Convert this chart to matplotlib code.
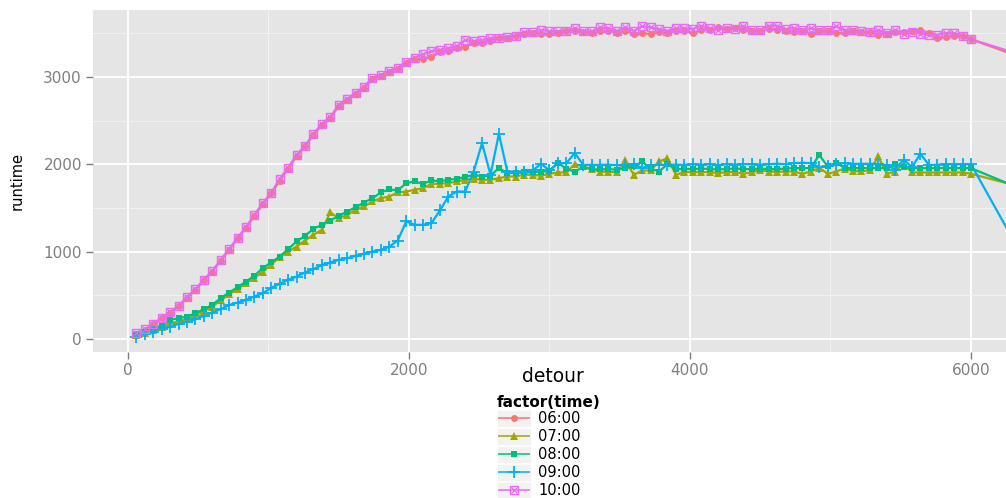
import matplotlib.pyplot as plt
from matplotlib.lines import Line2D
from matplotlib.patches import Rectangle

###############################################################################
# Dados
###############################################################################
detour = list(range(60, 6001, 60)) + [6500]

rt_0600 = [60, 105, 165, 235, 300, 375, 470, 565, 670, 770,
           895, 1020, 1150, 1270, 1410, 1540, 1665, 1810, 1950, 2090,
           2205, 2335, 2450, 2530, 2665, 2740, 2805, 2870, 2975, 3010,
           3050, 3090, 3160, 3200,
           3200, 3230, 3280, 3300, 3330, 3340, 3390, 3390, 3410, 3440,
           3450, 3470, 3490, 3500, 3490, 3490, 3505, 3520, 3520, 3515,
           3500, 3520, 3530, 3500, 3525, 3495, 3500, 3490, 3510, 3500,
           3530, 3530,
           3500, 3540, 3540, 3565, 3550, 3560, 3535, 3520, 3520, 3545,
           3540, 3530, 3510, 3520, 3494, 3520, 3525, 3500, 3500, 3520,
           3515, 3509, 3482, 3494, 3510, 3509, 3520, 3540, 3500, 3444,
           3455, 3471, 3471, 3430,
           3140]

rt_0700 = [40, 70, 100, 140, 180, 200, 230, 270, 320, 370,
           440, 510, 570, 640, 700, 771, 850, 940, 1000, 1057,
           1126, 1192, 1249, 1447, 1382, 1420, 1478, 1516, 1573, 1611,
           1630, 1676, 1687, 1707, 1726, 1775, 1775, 1783, 1802, 1821,
           1833, 1821, 1821, 1840, 1859, 1859, 1879, 1879, 1868, 1890,
           1905, 1905, 2004, 1974, 1944, 1916, 1909, 1909, 2043, 1879,
           1928, 1928, 2031, 2069, 1879, 1909, 1909, 1909, 1909, 1898,
           1909, 1909, 1890, 1909, 1930, 1916, 1912, 1916, 1916, 1890,
           1916, 1960, 1890, 1916, 1950, 1920, 1920, 1930, 2088, 1890,
           1916, 2004, 1905, 1905, 1905, 1905, 1905, 1905, 1905, 1890,
           1680]

rt_0800 = [46, 84, 111, 160, 218, 237, 256, 294, 340, 389,
           466, 531, 592, 657, 722, 813, 876, 943, 1028, 1115,
           1180, 1260, 1306, 1355, 1409, 1458, 1508, 1561, 1611, 1676,
           1714, 1699, 1783, 1802, 1775, 1814, 1805, 1821, 1833, 1852,
           1879, 1859, 1868, 1955, 1898, 1900, 1905, 1910, 1916, 1920,
           2019, 1944, 1916, 1967, 1940, 1940, 1944, 1936, 1955, 1974,
           2031, 1950, 1916, 2000, 1944, 1944, 1944, 1950, 1944, 1940,
           1944, 1950, 1944, 1944, 1950, 1944, 1944, 1950, 1955, 1955,
           1955, 2107, 1974, 2012, 1960, 1955, 1955, 1955, 1955, 1955,
           2004, 1970, 1955, 1955, 1955, 1955, 1955, 1955, 1955, 1955,
           1620]

rt_0900 = [27, 57, 84, 111, 141, 172, 199, 225, 263, 302,
           340, 389, 416, 447, 485, 523, 585, 630, 676, 714,
           760, 798, 848, 874, 905, 924, 951, 974, 1000, 1019,
           1057, 1126, 1344, 1306, 1306, 1325, 1470, 1630, 1687, 1687,
           1916, 2241, 1879, 2348, 1916, 1916, 1916, 1928, 2004, 1928,
           2012, 2012, 2127, 1993, 1993, 1993, 1995, 1990, 1993, 2000,
           1955, 1990, 1993, 1993, 1995, 1993, 2000, 1995, 2000, 1990,
           2000, 1995, 2000, 2000, 1995, 2000, 2005, 2000, 2012, 2016,
           2012, 1967, 1975, 2004, 2012, 2004, 2004, 2004, 2004, 1990,
           1939, 2050, 1967, 2119, 1993, 1993, 2000, 2000, 2000, 2000,
           560]

rt_1000 = [69, 110, 172, 240, 309, 378, 481, 573, 676, 779,
           905, 1031, 1157, 1283, 1420, 1558, 1672, 1833, 1959, 2107,
           2210, 2348, 2463, 2543, 2680, 2749, 2818, 2887, 2990, 3024,
           3070, 3104, 3173, 3219,
           3260, 3290, 3310, 3330, 3350, 3420, 3410, 3420, 3440, 3450,
           3460, 3470, 3515, 3510, 3535, 3525, 3520, 3530, 3555, 3520,
           3520, 3565, 3555, 3525, 3570, 3525, 3580, 3565, 3545, 3525,
           3555, 3555, 3547, 3585,
           3560, 3535, 3560, 3548, 3585, 3532, 3540, 3585, 3585, 3547,
           3559, 3532, 3559, 3532, 3532, 3578, 3532, 3532, 3520, 3509,
           3532, 3501, 3532, 3494, 3509, 3494, 3482, 3482, 3501, 3501,
           3471, 3430,
           3180]

labels = ['06:00', '07:00', '08:00', '09:00', '10:00']
cores = ['#F8766D', '#A3A500', '#00BF7D', '#00B0F6', '#E76BF3']
series = [rt_0600, rt_0700, rt_0800, rt_0900, rt_1000]

# estilo dos marcadores (formas do ggplot)
estilos = [
    [dict(marker='o', ms=5, mew=0)],
    [dict(marker='^', ms=6, mew=0)],
    [dict(marker='s', ms=5, mew=0)],
    [dict(marker='+', ms=8, mew=1.3)],
    [dict(marker='s', ms=5.5, mew=1.0, mfc='none'),
     dict(marker='x', ms=3.8, mew=0.9)],
]

W, H = 1006, 498


def fx(x):
    return x / W


def fy(y):
    return 1 - y / H


###############################################################################
# Gráfico
###############################################################################
plt.rcParams['font.family'] = ['DejaVu Sans']
fig = plt.figure(figsize=(W / 100, H / 100), dpi=100)
ax = fig.add_axes([fx(93), fy(352), (1012 - 93) / W, (352 - 10) / H])
ax.set_facecolor('#E5E5E5')

for y, c in zip(series, cores):
    ax.plot(detour, y, color=c, lw=1.6, zorder=2)
for y, c, est in zip(series, cores, estilos):
    for e in est:
        ax.plot(detour, y, ls='none', color=c, mec=c, zorder=3, **e)

ax.set_xlim(-249, 6292)
ax.set_ylim(-150, 3765)
ax.set_xticks([0, 2000, 4000, 6000])
ax.set_yticks([0, 1000, 2000, 3000])
ax.set_xticks([1000, 3000, 5000], minor=True)
ax.set_yticks([500, 1500, 2500, 3500], minor=True)
ax.grid(which='major', color='white', lw=1.3)
ax.grid(which='minor', color='#F2F2F2', lw=0.7)
ax.set_axisbelow(True)
for s in ax.spines.values():
    s.set_visible(False)
ax.tick_params(which='major', colors='#7F7F7F', length=5, width=1,
               labelsize=11, pad=3)
ax.tick_params(which='minor', length=0)

ax.set_xlabel('detour', fontsize=13.5, va='center')
ax.xaxis.set_label_coords(0.5, (352 - 376) / 342)
ax.set_ylabel('runtime', fontsize=10.5, va='center')
ax.yaxis.set_label_coords((17 - 93) / 919, 0.5)

# legenda manual (estilo ggplot, abaixo do painel)
fig.text(fx(497), fy(402), 'factor(time)', fontsize=11, fontweight='bold',
         va='center', ha='left')
linhas_y = [418, 436, 454, 472, 490]
for yy, lab, c, est in zip(linhas_y, labels, cores, estilos):
    fig.add_artist(Rectangle((fx(497), fy(yy + 8.5)), 34 / W, 17 / H,
                             transform=fig.transFigure, facecolor='#F2F2F2',
                             edgecolor='white', lw=0.5))
    fig.add_artist(Line2D([fx(499), fx(529)], [fy(yy), fy(yy)],
                          transform=fig.transFigure, color=c, lw=1.4,
                          alpha=0.8))
    for e in est:
        fig.add_artist(Line2D([fx(514)], [fy(yy)], transform=fig.transFigure,
                              ls='none', color=c, mec=c, **e))
    fig.text(fx(538), fy(yy), lab, fontsize=10.5, va='center', ha='left')

fig.savefig('out.png', dpi=100)
